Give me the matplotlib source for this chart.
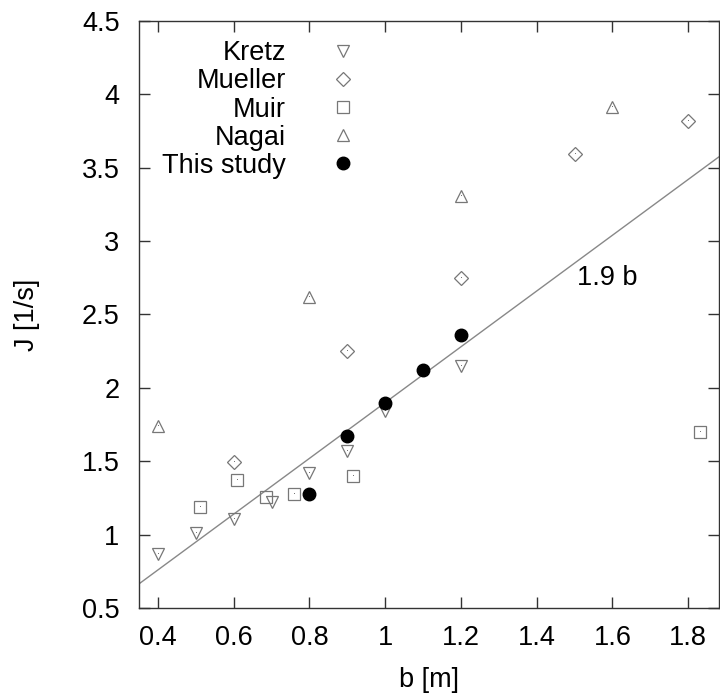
import numpy as np
import matplotlib
matplotlib.use('Agg')
import matplotlib.pyplot as plt
from matplotlib.ticker import FuncFormatter

plt.rcParams['font.family'] = ['Liberation Sans', 'DejaVu Sans']

# data
kretz_b = [0.4, 0.5, 0.6, 0.7, 0.8, 0.9, 1.0, 1.2]
kretz_j = [0.87, 1.01, 1.11, 1.22, 1.42, 1.57, 1.84, 2.15]
mueller_b = [0.6, 0.9, 1.2, 1.5, 1.8]
mueller_j = [1.495, 2.25, 2.75, 3.59, 3.82]
muir_b = [0.51, 0.61, 0.685, 0.76, 0.915, 1.83]
muir_j = [1.19, 1.37, 1.26, 1.28, 1.40, 1.70]
nagai_b = [0.4, 0.8, 1.2, 1.6]
nagai_j = [1.74, 2.62, 3.31, 3.91]
study_b = [0.8, 0.9, 1.0, 1.1, 1.2]
study_j = [1.28, 1.67, 1.90, 2.12, 2.36]
slope = 1.9

gray = '#777777'
fs = 19.5

fig = plt.figure(figsize=(7.2, 6.95), dpi=100)
ax = fig.add_axes([0.193, 0.125, 0.805, 0.845])

bb = np.array([0.35, 1.88])
ax.plot(bb, slope * bb, color='#888888', lw=1.0, zorder=1)

sets = [
    (kretz_b, kretz_j, 'v', 9, 'Kretz'),
    (mueller_b, mueller_j, 'D', 7, 'Mueller'),
    (muir_b, muir_j, 's', 9, 'Muir'),
    (nagai_b, nagai_j, '^', 9, 'Nagai'),
]
for b, j, m, size, name in sets:
    ax.plot(b, j, m, ms=size, mfc='none', mec=gray, mew=0.9, label=name)
    ax.plot(b, j, ',', color=gray)
ax.plot(study_b, study_j, 'o', ms=9, color='black', label='This study', zorder=3)

ax.text(1.505, 2.75, '%.1f b' % slope, fontsize=fs, ha='left', va='center')

ax.set_xlim(0.35, 1.88)
ax.set_ylim(0.5, 4.5)
ax.set_xticks([0.4, 0.6, 0.8, 1.0, 1.2, 1.4, 1.6, 1.8])
ax.set_yticks(np.arange(0.5, 4.51, 0.5))
ax.xaxis.set_major_formatter(FuncFormatter(lambda v, p: '%g' % v))
ax.yaxis.set_major_formatter(FuncFormatter(lambda v, p: '%g' % v))
ax.tick_params(direction='in', top=True, right=True, length=8, width=1,
               labelsize=fs, color='#333333')
ax.tick_params(axis='x', pad=12)
ax.tick_params(axis='y', pad=14)
for s in ax.spines.values():
    s.set_color('#333333')
    s.set_linewidth(1.0)

ax.set_xlabel('b [m]', fontsize=fs, labelpad=12)
ax.set_ylabel('J [1/s]', fontsize=fs, labelpad=30)

ax.legend(loc='upper right', bbox_to_anchor=(0.375, 0.967), frameon=False,
          markerfirst=False, fontsize=fs, handletextpad=1.6, handlelength=1.0,
          labelspacing=0.08, borderaxespad=0, borderpad=0)

fig.savefig('out.png', dpi=100)
